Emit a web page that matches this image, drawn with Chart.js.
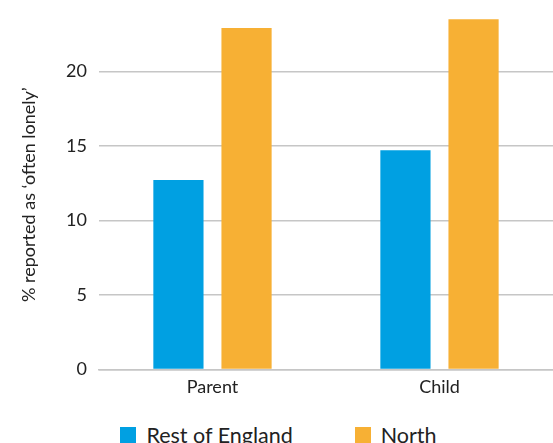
<!DOCTYPE html>
<html>
<head>
<meta charset="utf-8">
<script src="https://cdn.jsdelivr.net/npm/chart.js@4/dist/chart.umd.min.js"></script>
<style>
  html, body { margin: 0; padding: 0; background: #fff; overflow: hidden; }
  #wrap { position: relative; width: 553px; height: 443px; overflow: hidden; font-family: Lato, 'Open Sans', sans-serif; }
  #box { position: absolute; left: 0; top: -26px; width: 553px; height: 431px; }
  #leyenda { position: absolute; left: 0; top: 424px; width: 553px; padding-left: 4px; box-sizing: border-box;
             display: flex; justify-content: center; gap: 62px; }
  #leyenda .item { display: flex; align-items: center; height: 22px; font-size: 21.5px; color: #222; line-height: 22px; }
  #leyenda .cuadro { width: 16px; height: 16px; margin-right: 10px; }
</style>
</head>
<body>
<div id="wrap">
  <div id="box"><canvas id="chart"></canvas></div>
  <div id="leyenda"></div>
</div>
<script>
// categories and series
const categorias = ["Parent", "Child"];
const restoInglaterra = [12.7, 14.7];
const norte = [22.9, 23.5];
const ticksY = [0, 5, 10, 15, 20];

const fuente = "Lato, 'Open Sans', sans-serif";
const gris = "#c6c6c6";

const grafico = new Chart(document.getElementById("chart"), {
  type: "bar",
  data: {
    labels: categorias,
    datasets: [
      { label: "Rest of England", data: restoInglaterra, backgroundColor: "#00a0e2", categoryPercentage: 0.6, barPercentage: 0.737 },
      { label: "North", data: norte, backgroundColor: "#f7b034", categoryPercentage: 0.6, barPercentage: 0.737 }
    ]
  },
  options: {
    responsive: true,
    maintainAspectRatio: false,
    animation: false,
    layout: { padding: { left: 14.5, right: 0, top: 0, bottom: 0 } },
    plugins: {
      tooltip: { enabled: false },
      legend: { display: false }
    },
    scales: {
      x: {
        grid: { display: false, drawTicks: false },
        border: { color: gris, width: 1.5 },
        ticks: { color: "#222", font: { family: fuente, size: 18 }, padding: 7 }
      },
      y: {
        min: 0, max: 25,
        afterBuildTicks: (ax) => { ax.ticks = ticksY.map(v => ({ value: v })); },
        grid: { color: gris, lineWidth: 1.5, drawTicks: false },
        border: { display: false },
        ticks: { color: "#222", font: { family: fuente, size: 18 }, padding: 12 },
        title: {
          display: true, text: "% reported as \u2018often lonely\u2019     ",
          color: "#222", font: { family: fuente, size: 18 }, padding: { bottom: 14 }
        }
      }
    }
  }
});

// legend built from the datasets
const leyenda = document.getElementById("leyenda");
grafico.data.datasets.forEach(ds => {
  const item = document.createElement("div");
  item.className = "item";
  const cuadro = document.createElement("span");
  cuadro.className = "cuadro";
  cuadro.style.background = ds.backgroundColor;
  item.appendChild(cuadro);
  item.appendChild(document.createTextNode(ds.label));
  leyenda.appendChild(item);
});
</script>
</body>
</html>
